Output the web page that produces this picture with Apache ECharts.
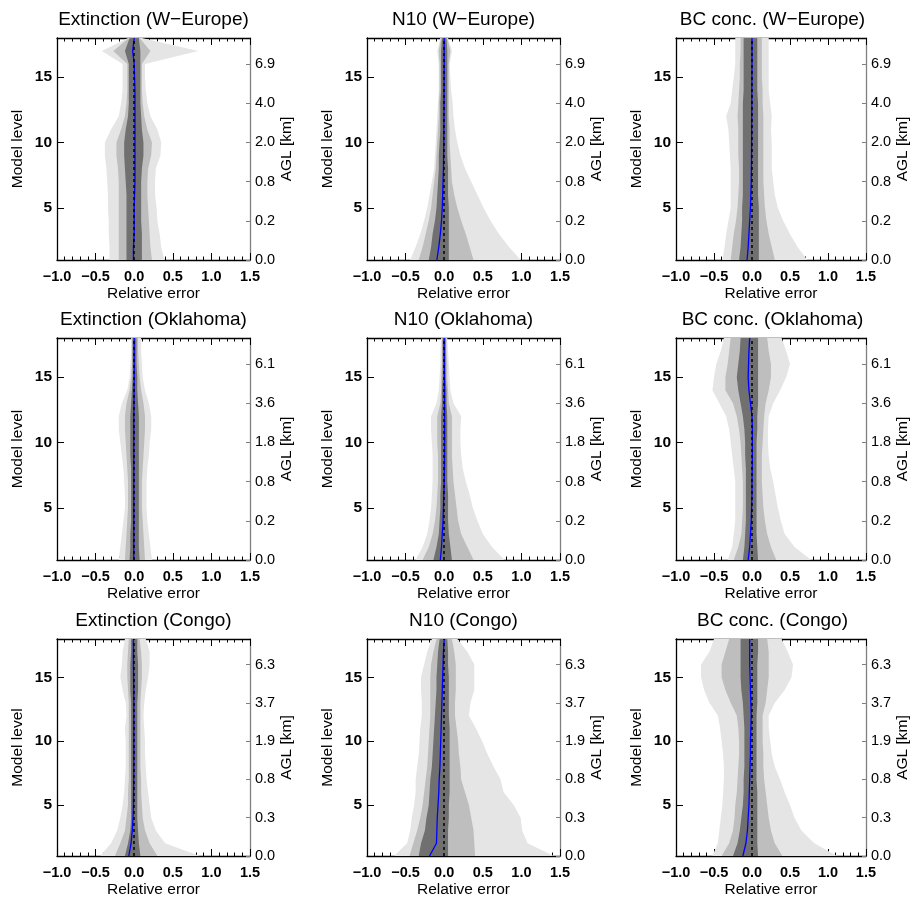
<!DOCTYPE html>
<html>
<head>
<meta charset="utf-8">
<script src="https://cdn.jsdelivr.net/npm/echarts@6/dist/echarts.min.js"></script>
<style>html,body{margin:0;padding:0;background:#fff}#c{width:912px;height:899px}</style>
</head>
<body>
<div id="c"></div>
<script>
// ---------- data ----------
const levels = [1,2,3,4,5,6,7,8,9,10,11,12,13,14,15,16,17,18];
const titles = ['Extinction (W\u2212Europe)','N10 (W\u2212Europe)','BC conc. (W\u2212Europe)',
                'Extinction (Oklahoma)','N10 (Oklahoma)','BC conc. (Oklahoma)',
                'Extinction (Congo)','N10 (Congo)','BC conc. (Congo)'];
const xTicks = [-1.0,-0.5,0.0,0.5,1.0,1.5];
const yLabelLevels = [5,10,15];
const aglLevels = [1,4,7,10,13,16];
const aglWE = ['0.0','0.2','0.8','2.0','4.0','6.9'];
const aglOK = ['0.0','0.2','0.8','1.8','3.6','6.1'];
const aglCG = ['0.0','0.3','0.8','1.9','3.7','6.3'];

// Extinction W-Europe
const extWE_lo1 = [-0.32,-0.32,-0.33,-0.33,-0.34,-0.34,-0.35,-0.36,-0.38,-0.38,-0.30,-0.20,-0.17,-0.15,-0.15,-0.15,-0.42,-0.08];
const extWE_hi1 = [0.39,0.35,0.33,0.30,0.29,0.27,0.27,0.28,0.34,0.35,0.30,0.21,0.17,0.15,0.14,0.14,0.83,0.10];
const extWE_lo2 = [-0.20,-0.20,-0.20,-0.20,-0.20,-0.20,-0.20,-0.21,-0.23,-0.23,-0.17,-0.12,-0.10,-0.09,-0.09,-0.09,-0.27,-0.07];
const extWE_hi2 = [0.23,0.21,0.20,0.19,0.18,0.17,0.17,0.18,0.22,0.23,0.17,0.13,0.11,0.10,0.10,0.10,0.21,0.07];
const extWE_lo3 = [-0.10,-0.10,-0.10,-0.10,-0.10,-0.10,-0.11,-0.12,-0.13,-0.13,-0.11,-0.08,-0.07,-0.07,-0.07,-0.07,-0.12,-0.06];
const extWE_hi3 = [0.10,0.10,0.10,0.09,0.09,0.09,0.09,0.10,0.12,0.12,0.10,0.09,0.08,0.08,0.08,0.08,0.08,0.06];
const extWE_med = [-0.01,-0.01,0,0,0,0.005,0.01,0.01,0.01,0.01,0.01,0.01,0.01,0.01,0.005,0,-0.02,0];

// N10 W-Europe
const n10WE_lo1 = [-0.44,-0.37,-0.31,-0.26,-0.22,-0.19,-0.16,-0.13,-0.12,-0.11,-0.10,-0.09,-0.08,-0.07,-0.07,-0.07,-0.09,-0.05];
const n10WE_hi1 = [0.99,0.84,0.71,0.60,0.51,0.43,0.35,0.27,0.21,0.17,0.14,0.12,0.11,0.09,0.08,0.07,0.10,0.05];
const n10WE_lo2 = [-0.33,-0.28,-0.24,-0.20,-0.17,-0.15,-0.13,-0.11,-0.10,-0.09,-0.08,-0.07,-0.07,-0.06,-0.06,-0.06,-0.07,-0.04];
const n10WE_hi2 = [0.38,0.33,0.28,0.22,0.17,0.13,0.10,0.09,0.08,0.07,0.07,0.06,0.06,0.06,0.06,0.06,0.08,0.04];
const n10WE_lo3 = [-0.20,-0.17,-0.15,-0.12,-0.10,-0.09,-0.08,-0.07,-0.07,-0.06,-0.05,-0.05,-0.05,-0.04,-0.04,-0.04,-0.04,-0.03];
const n10WE_hi3 = [0.06,0.06,0.06,0.06,0.06,0.05,0.05,0.05,0.04,0.04,0.04,0.04,0.04,0.04,0.04,0.04,0.04,0.03];
const n10WE_med = [-0.095,-0.07,-0.05,-0.035,-0.025,-0.02,-0.015,-0.01,-0.008,-0.005,-0.004,-0.003,-0.002,-0.002,-0.001,0,0,0];

// BC conc. W-Europe
const bcWE_lo1 = [-0.39,-0.36,-0.34,-0.31,-0.28,-0.28,-0.28,-0.28,-0.29,-0.30,-0.31,-0.34,-0.28,-0.26,-0.24,-0.22,-0.22,-0.22];
const bcWE_hi1 = [0.73,0.60,0.50,0.41,0.34,0.30,0.28,0.26,0.26,0.26,0.25,0.26,0.24,0.22,0.22,0.22,0.22,0.22];
const bcWE_lo2 = [-0.28,-0.26,-0.24,-0.21,-0.19,-0.18,-0.17,-0.17,-0.18,-0.18,-0.18,-0.19,-0.18,-0.17,-0.16,-0.16,-0.15,-0.15];
const bcWE_hi2 = [0.30,0.26,0.22,0.19,0.17,0.16,0.15,0.15,0.15,0.15,0.15,0.15,0.14,0.14,0.13,0.13,0.13,0.13];
const bcWE_lo3 = [-0.17,-0.15,-0.14,-0.13,-0.13,-0.12,-0.12,-0.12,-0.12,-0.12,-0.12,-0.12,-0.12,-0.11,-0.11,-0.11,-0.11,-0.11];
const bcWE_hi3 = [0.09,0.09,0.09,0.09,0.09,0.08,0.08,0.08,0.08,0.08,0.08,0.08,0.08,0.07,0.07,0.07,0.07,0.07];
const bcWE_med = [-0.065,-0.05,-0.04,-0.03,-0.02,-0.015,-0.01,-0.008,-0.006,-0.005,-0.004,-0.003,-0.002,-0.002,-0.001,0,0,0];

// Extinction Oklahoma
const extOK_lo1 = [-0.20,-0.18,-0.16,-0.14,-0.12,-0.12,-0.13,-0.14,-0.16,-0.18,-0.20,-0.20,-0.16,-0.09,-0.06,-0.05,-0.04,-0.04];
const extOK_hi1 = [0.23,0.21,0.19,0.17,0.16,0.16,0.16,0.17,0.19,0.20,0.22,0.22,0.19,0.14,0.11,0.10,0.09,0.09];
const extOK_lo2 = [-0.12,-0.11,-0.10,-0.09,-0.08,-0.08,-0.08,-0.09,-0.10,-0.11,-0.12,-0.12,-0.10,-0.06,-0.04,-0.03,-0.03,-0.03];
const extOK_hi2 = [0.14,0.13,0.12,0.11,0.10,0.10,0.10,0.11,0.12,0.13,0.14,0.14,0.12,0.09,0.07,0.06,0.05,0.05];
const extOK_lo3 = [-0.06,-0.05,-0.05,-0.04,-0.04,-0.04,-0.04,-0.04,-0.05,-0.05,-0.05,-0.05,-0.04,-0.03,-0.02,-0.02,-0.02,-0.02];
const extOK_hi3 = [0.07,0.06,0.06,0.06,0.06,0.06,0.06,0.06,0.06,0.06,0.06,0.06,0.05,0.04,0.04,0.03,0.03,0.03];
const extOK_med = [-0.005,-0.005,-0.005,-0.005,-0.005,-0.005,-0.005,-0.005,-0.005,-0.005,-0.005,-0.005,-0.003,-0.002,0,0,0,0];

// N10 Oklahoma
const n10OK_lo1 = [-0.37,-0.28,-0.22,-0.19,-0.17,-0.16,-0.15,-0.15,-0.15,-0.16,-0.17,-0.17,-0.10,-0.07,-0.06,-0.05,-0.05,-0.04];
const n10OK_hi1 = [0.78,0.62,0.50,0.43,0.37,0.33,0.28,0.24,0.22,0.21,0.21,0.22,0.12,0.08,0.07,0.06,0.05,0.04];
const n10OK_lo2 = [-0.28,-0.20,-0.15,-0.12,-0.10,-0.09,-0.08,-0.08,-0.08,-0.09,-0.09,-0.09,-0.05,-0.04,-0.04,-0.03,-0.03,-0.03];
const n10OK_hi2 = [0.38,0.30,0.22,0.18,0.16,0.14,0.12,0.11,0.10,0.10,0.10,0.10,0.06,0.05,0.04,0.04,0.03,0.03];
const n10OK_lo3 = [-0.14,-0.10,-0.07,-0.06,-0.05,-0.05,-0.04,-0.04,-0.04,-0.04,-0.04,-0.04,-0.03,-0.03,-0.02,-0.02,-0.02,-0.02];
const n10OK_hi3 = [0.10,0.08,0.06,0.05,0.05,0.05,0.04,0.04,0.04,0.04,0.04,0.04,0.03,0.03,0.02,0.02,0.02,0.02];
const n10OK_med = [-0.05,-0.035,-0.025,-0.015,-0.01,-0.005,0,0.003,0.005,0.006,0.006,0.006,0.005,0.004,0.003,0.002,0,0];

// BC conc. Oklahoma
const bcOK_lo1 = [-0.32,-0.26,-0.24,-0.22,-0.22,-0.22,-0.22,-0.24,-0.26,-0.28,-0.30,-0.34,-0.43,-0.52,-0.50,-0.47,-0.41,-0.37];
const bcOK_hi1 = [0.78,0.56,0.43,0.38,0.34,0.31,0.28,0.24,0.22,0.21,0.21,0.22,0.28,0.37,0.45,0.50,0.45,0.39];
const bcOK_lo2 = [-0.24,-0.18,-0.14,-0.13,-0.12,-0.12,-0.12,-0.13,-0.14,-0.15,-0.17,-0.20,-0.25,-0.35,-0.35,-0.32,-0.30,-0.28];
const bcOK_hi2 = [0.32,0.25,0.20,0.17,0.15,0.14,0.13,0.13,0.13,0.14,0.15,0.16,0.18,0.22,0.25,0.25,0.22,0.20];
const bcOK_lo3 = [-0.12,-0.10,-0.09,-0.08,-0.08,-0.08,-0.08,-0.08,-0.09,-0.09,-0.10,-0.12,-0.15,-0.18,-0.20,-0.18,-0.16,-0.15];
const bcOK_hi3 = [0.08,0.07,0.06,0.06,0.06,0.06,0.06,0.06,0.06,0.06,0.07,0.07,0.08,0.08,0.08,0.08,0.08,0.08];
const bcOK_med = [-0.05,-0.03,-0.02,-0.01,-0.005,0,0,0.003,0.005,0.005,0.005,0,-0.02,-0.04,-0.05,-0.045,-0.04,-0.03];

// Extinction Congo
const extCG_lo1 = [-0.44,-0.30,-0.22,-0.18,-0.15,-0.13,-0.12,-0.11,-0.11,-0.11,-0.12,-0.10,-0.11,-0.15,-0.18,-0.16,-0.15,-0.12];
const extCG_hi1 = [0.85,0.40,0.28,0.22,0.20,0.18,0.16,0.15,0.14,0.14,0.13,0.12,0.13,0.15,0.18,0.20,0.20,0.15];
const extCG_lo2 = [-0.25,-0.18,-0.12,-0.10,-0.08,-0.08,-0.07,-0.07,-0.07,-0.07,-0.07,-0.07,-0.07,-0.08,-0.09,-0.09,-0.08,-0.07];
const extCG_hi2 = [0.30,0.20,0.14,0.11,0.10,0.09,0.09,0.08,0.08,0.08,0.08,0.08,0.08,0.09,0.10,0.10,0.09,0.07];
const extCG_lo3 = [-0.12,-0.08,-0.05,-0.04,-0.04,-0.04,-0.04,-0.04,-0.04,-0.04,-0.04,-0.04,-0.04,-0.05,-0.05,-0.05,-0.04,-0.04];
const extCG_hi3 = [0.08,0.06,0.05,0.04,0.04,0.04,0.04,0.04,0.04,0.04,0.04,0.04,0.04,0.05,0.05,0.05,0.04,0.04];
const extCG_med = [-0.07,-0.04,-0.025,-0.015,-0.01,-0.008,-0.006,-0.005,-0.005,-0.005,-0.005,-0.005,-0.005,-0.006,-0.008,-0.01,-0.01,-0.01];

// N10 Congo
const n10CG_lo1 = [-0.65,-0.48,-0.44,-0.42,-0.39,-0.37,-0.37,-0.35,-0.33,-0.32,-0.31,-0.29,-0.29,-0.30,-0.30,-0.26,-0.22,-0.16];
const n10CG_hi1 = [1.42,1.08,1.01,0.99,0.90,0.77,0.73,0.64,0.56,0.49,0.41,0.32,0.34,0.39,0.39,0.39,0.30,0.17];
const n10CG_lo2 = [-0.45,-0.40,-0.35,-0.31,-0.28,-0.26,-0.24,-0.22,-0.21,-0.20,-0.19,-0.18,-0.18,-0.18,-0.18,-0.17,-0.14,-0.10];
const n10CG_hi2 = [0.40,0.39,0.38,0.35,0.32,0.27,0.22,0.21,0.19,0.18,0.16,0.14,0.14,0.15,0.15,0.15,0.13,0.10];
const n10CG_lo3 = [-0.33,-0.30,-0.25,-0.23,-0.20,-0.19,-0.18,-0.16,-0.15,-0.14,-0.13,-0.12,-0.11,-0.10,-0.10,-0.09,-0.08,-0.06];
const n10CG_hi3 = [0.05,0.05,0.05,0.06,0.06,0.07,0.07,0.07,0.07,0.07,0.07,0.06,0.06,0.06,0.06,0.05,0.05,0.04];
const n10CG_med = [-0.19,-0.10,-0.095,-0.09,-0.08,-0.07,-0.065,-0.055,-0.05,-0.045,-0.04,-0.035,-0.03,-0.025,-0.02,-0.015,-0.01,0];

// BC conc. Congo
const bcCG_lo1 = [-0.52,-0.45,-0.43,-0.41,-0.39,-0.38,-0.37,-0.37,-0.38,-0.40,-0.42,-0.45,-0.56,-0.63,-0.67,-0.67,-0.56,-0.50];
const bcCG_hi1 = [1.12,0.82,0.65,0.56,0.50,0.43,0.37,0.30,0.26,0.24,0.22,0.22,0.30,0.43,0.52,0.54,0.47,0.39];
const bcCG_lo2 = [-0.40,-0.30,-0.25,-0.23,-0.22,-0.20,-0.19,-0.18,-0.17,-0.17,-0.18,-0.20,-0.28,-0.35,-0.40,-0.40,-0.35,-0.30];
const bcCG_hi2 = [0.40,0.30,0.25,0.22,0.20,0.18,0.16,0.15,0.15,0.14,0.14,0.14,0.18,0.20,0.22,0.22,0.22,0.20];
const bcCG_lo3 = [-0.25,-0.19,-0.16,-0.14,-0.12,-0.11,-0.11,-0.10,-0.10,-0.10,-0.10,-0.11,-0.12,-0.14,-0.15,-0.15,-0.15,-0.15];
const bcCG_hi3 = [0.08,0.07,0.07,0.07,0.07,0.07,0.06,0.06,0.06,0.06,0.06,0.06,0.07,0.07,0.07,0.07,0.08,0.08];
const bcCG_med = [-0.12,-0.08,-0.06,-0.05,-0.04,-0.035,-0.03,-0.025,-0.02,-0.02,-0.015,-0.01,-0.015,-0.02,-0.025,-0.03,-0.03,-0.03];

const panels = [
  [extWE_lo1,extWE_hi1,extWE_lo2,extWE_hi2,extWE_lo3,extWE_hi3,extWE_med,aglWE],
  [n10WE_lo1,n10WE_hi1,n10WE_lo2,n10WE_hi2,n10WE_lo3,n10WE_hi3,n10WE_med,aglWE],
  [bcWE_lo1,bcWE_hi1,bcWE_lo2,bcWE_hi2,bcWE_lo3,bcWE_hi3,bcWE_med,aglWE],
  [extOK_lo1,extOK_hi1,extOK_lo2,extOK_hi2,extOK_lo3,extOK_hi3,extOK_med,aglOK],
  [n10OK_lo1,n10OK_hi1,n10OK_lo2,n10OK_hi2,n10OK_lo3,n10OK_hi3,n10OK_med,aglOK],
  [bcOK_lo1,bcOK_hi1,bcOK_lo2,bcOK_hi2,bcOK_lo3,bcOK_hi3,bcOK_med,aglOK],
  [extCG_lo1,extCG_hi1,extCG_lo2,extCG_hi2,extCG_lo3,extCG_hi3,extCG_med,aglCG],
  [n10CG_lo1,n10CG_hi1,n10CG_lo2,n10CG_hi2,n10CG_lo3,n10CG_hi3,n10CG_med,aglCG],
  [bcCG_lo1,bcCG_hi1,bcCG_lo2,bcCG_hi2,bcCG_lo3,bcCG_hi3,bcCG_med,aglCG]
];

// ---------- layout / style ----------
const colLeft = [57, 367, 676];
const rowTop = [38, 338, 639];
const gW = 193, gH = 222;
const FONT = '"Liberation Sans", Arial, Helvetica, sans-serif';
const bandColors = ['#e5e5e5', '#bebebe', '#707070'];
const LW = 1.3;

function fmtX(v) { return v.toFixed(1).replace('-', '\u2212'); }

function bandRender(params, api) {
  if (params.dataIndexInside !== 0) return null;
  const n = params.dataInsideLength;
  const left = [], right = [];
  for (let k = 0; k < n; k++) {
    left.push(api.coord([api.value(0, k), api.value(2, k)]));
    right.push(api.coord([api.value(1, k), api.value(2, k)]));
  }
  return { type: 'polygon', shape: { points: left.concat(right.reverse()) },
           style: { fill: api.visual('color') } };
}

const option = { animation: false, backgroundColor: '#fff',
  title: [], grid: [], xAxis: [], yAxis: [], series: [] };

panels.forEach((p, i) => {
  const r = Math.floor(i / 3), c = i % 3;
  const left = colLeft[c], top = rowTop[r];
  option.title.push({ text: titles[i], left: left + gW / 2, top: top - 28, textAlign: 'center', padding: 0,
    textStyle: { fontFamily: FONT, fontSize: 19, fontWeight: 'normal', color: '#000' } });
  option.grid.push({ left: left, top: top, width: gW, height: gH, containLabel: false });

  const xBase = { gridIndex: i, type: 'value', min: -1, max: 1.5, interval: 0.5,
    splitLine: { show: false },
    axisLine: { show: true, onZero: false, lineStyle: { color: '#000', width: LW } },
    axisTick: { show: true, inside: true, length: 7, lineStyle: { color: '#000', width: 1 } },
    minorTick: { show: true, splitNumber: 5, length: 3.5, lineStyle: { color: '#000', width: 1 } },
    minorSplitLine: { show: false } };
  option.xAxis.push(Object.assign({}, xBase, { position: 'bottom',
    axisLabel: { show: true, formatter: fmtX, margin: 9, showMinLabel: true, showMaxLabel: true,
      fontFamily: FONT, fontSize: 14.5, fontWeight: 'bold', color: '#000' },
    name: 'Relative error', nameLocation: 'middle', nameGap: 26,
    nameTextStyle: { fontFamily: FONT, fontSize: 15.5, color: '#000' } }));
  option.xAxis.push(Object.assign({}, xBase, { position: 'top', axisLabel: { show: false } }));

  const yBase = { gridIndex: i, type: 'value', min: 1, max: 18, splitLine: { show: false } };
  // left major
  option.yAxis.push(Object.assign({}, yBase, { position: 'left',
    axisLine: { show: true, onZero: false, lineStyle: { color: '#000', width: LW } },
    axisTick: { show: true, inside: true, length: 7, customValues: yLabelLevels, lineStyle: { color: '#000', width: 1 } },
    axisLabel: { show: true, customValues: yLabelLevels, margin: 5,
      fontFamily: FONT, fontSize: 15.5, fontWeight: 'bold', color: '#000' },
    name: 'Model level', nameLocation: 'middle', nameGap: 31, nameRotate: 90,
    nameTextStyle: { fontFamily: FONT, fontSize: 15.5, color: '#000' } }));
  // left minor
  option.yAxis.push(Object.assign({}, yBase, { position: 'left', interval: 1,
    axisLine: { show: false },
    axisTick: { show: true, inside: true, length: 3.5, lineStyle: { color: '#000', width: 1 } },
    axisLabel: { show: false } }));
  // right AGL
  const agl = p[7];
  option.yAxis.push(Object.assign({}, yBase, { position: 'right',
    axisLine: { show: true, onZero: false, lineStyle: { color: '#808080', width: LW } },
    axisTick: { show: true, inside: true, length: 4, customValues: aglLevels, lineStyle: { color: '#808080', width: 1 } },
    axisLabel: { show: true, customValues: aglLevels, margin: 5,
      formatter: (v) => agl[aglLevels.indexOf(v)],
      fontFamily: FONT, fontSize: 14.5, color: '#000' },
    name: 'AGL [km]', nameLocation: 'middle', nameGap: 28, nameRotate: 90,
    nameTextStyle: { fontFamily: FONT, fontSize: 15.5, color: '#000' } }));

  for (let b = 0; b < 3; b++) {
    const lo = p[2 * b], hi = p[2 * b + 1];
    const s = { type: 'custom', xAxisIndex: 2 * i, yAxisIndex: 3 * i, silent: true, clip: true,
      itemStyle: { color: bandColors[b] },
      encode: { x: [0, 1], y: 2 },
      data: levels.map((L, k) => [lo[k], hi[k], L]),
      renderItem: bandRender };
    if (b === 2) {
      s.markLine = { silent: true, symbol: 'none', label: { show: false },
        lineStyle: { color: '#000', type: [3, 3], width: 1.5 },
        data: [{ xAxis: 0 }] };
    }
    option.series.push(s);
  }
  option.series.push({ type: 'line', xAxisIndex: 2 * i, yAxisIndex: 3 * i, silent: true,
    showSymbol: false, symbol: 'none', clip: true,
    lineStyle: { color: '#0000ff', width: 1.3 },
    data: levels.map((L, k) => [p[6][k], L]) });
});

const chart = echarts.init(document.getElementById('c'), null, { renderer: 'canvas' });
chart.setOption(option);
</script>
</body>
</html>
